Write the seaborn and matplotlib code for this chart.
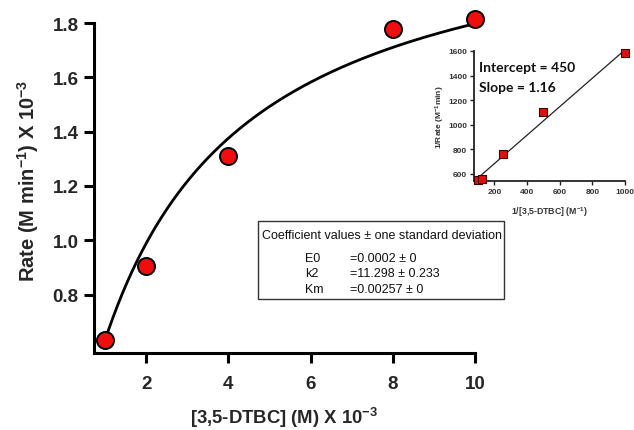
import numpy as np
import pandas as pd
import matplotlib
matplotlib.use("Agg")
import matplotlib.pyplot as plt
from matplotlib.patches import Rectangle
import seaborn as sns

# Substrate concentration (mM, i.e. M x 10^-3) and initial rate (M min^-1 x 10^-3)
conc = [1, 2, 4, 8, 10]
rate = [0.632, 0.907, 1.311, 1.779, 1.815]

# Michaelis-Menten fit coefficients
E0 = 0.0002
k2 = 11.298
Km = 0.00257

coef_names = ["E0", "k2", "Km"]
coef_texts = ["=0.0002 \u00b1 0", "=11.298 \u00b1 0.233", "=0.00257 \u00b1 0"]

# Lineweaver-Burk data
inv_conc = [100, 125, 250, 500, 1000]
inv_rate = [548, 560, 760, 1100, 1585]
lb_intercept = 450
lb_slope = 1.16

main_xticks = [2, 4, 6, 8, 10]
main_yticks = [0.8, 1.0, 1.2, 1.4, 1.6, 1.8]
inset_xticks = [200, 400, 600, 800, 1000]
inset_yticks = [600, 800, 1000, 1200, 1400, 1600]

sns.set_theme(style="ticks")
plt.rcParams["font.family"] = ["Liberation Sans", "DejaVu Sans"]
plt.rcParams["mathtext.fontset"] = "custom"
plt.rcParams["mathtext.rm"] = "Liberation Sans:bold"
plt.rcParams["mathtext.it"] = "Liberation Sans:bold"
plt.rcParams["mathtext.bf"] = "Liberation Sans:bold"

W, H = 634, 431
fig = plt.figure(figsize=(W / 100, H / 100), dpi=100)
fig.patch.set_facecolor("white")

# ---------------- main panel ----------------
ax = fig.add_axes([94 / W, (H - 354) / H, 381 / W, 330 / H])
ax.set_facecolor("none")

# fitted curve, in units of 10^-3
s_fit = np.linspace(conc[0], conc[-1], 300)
vmax = k2 * E0 * 1e3
km_m = Km * 1e3
fit = pd.DataFrame({"S": s_fit, "V": vmax * s_fit / (km_m + s_fit)})
sns.lineplot(data=fit, x="S", y="V", ax=ax, color="black", lw=2.0,
             clip_on=False, zorder=2)

pts = pd.DataFrame({"S": conc, "V": rate})
sns.scatterplot(data=pts, x="S", y="V", ax=ax, s=150, color="#f00d0d",
                edgecolor="black", linewidth=1.4, clip_on=False, zorder=3)

ax.set_xlim(0.73, 10)
ax.set_ylim(0.585, 1.8)
ax.set_xticks(main_xticks)
ax.set_yticks(main_yticks)
ax.set_xticklabels([str(v) for v in main_xticks])
ax.set_yticklabels([f"{v:.1f}" for v in main_yticks])
for sp in ["top", "right"]:
    ax.spines[sp].set_visible(False)
for sp in ["left", "bottom"]:
    ax.spines[sp].set_linewidth(2.2)
    ax.spines[sp].set_color("black")
ax.tick_params(axis="both", direction="out", length=7, width=2.2,
               color="black", labelsize=13.5, pad=4)
for lab in ax.get_xticklabels() + ax.get_yticklabels():
    lab.set_fontweight("bold")
ax.tick_params(axis="x", pad=9)

ax.set_xlabel("[3,5-DTBC] (M) X 10$^{-3}$", fontsize=13.3, fontweight="bold",
              labelpad=9)
ax.set_ylabel("Rate (M min$^{-1}$) X 10$^{-3}$", fontsize=14.5,
              fontweight="bold")
ax.yaxis.set_label_coords(-0.139, 0.525)

# coefficient box
bx0, by0, bx1, by1 = 258, 222, 504, 300
fig.patches.append(Rectangle((bx0 / W, 1 - by1 / H), (bx1 - bx0) / W,
                             (by1 - by0) / H, transform=fig.transFigure,
                             facecolor="white", edgecolor="#333333", lw=1.0))
fig.text(261.5 / W, 1 - 236 / H,
         "Coefficient values \u00b1 one standard deviation",
         fontsize=9.0, va="center", ha="left", color="#111111")
for i, (n, t) in enumerate(zip(coef_names, coef_texts)):
    yy = 1 - (259 + 15.5 * i) / H
    fig.text(305 / W, yy, n, fontsize=9.0, va="center", ha="left",
             color="#111111")
    fig.text(350 / W, yy, t, fontsize=9.0, va="center", ha="left",
             color="#111111")

# ---------------- inset: double reciprocal ----------------
ins = fig.add_axes([474 / W, (H - 182) / H, 151 / W, 130 / H])
ins.set_facecolor("none")
lx = np.array([inv_conc[0], inv_conc[-1]])
line = pd.DataFrame({"x": lx, "y": lb_intercept + lb_slope * lx})
sns.lineplot(data=line, x="x", y="y", ax=ins, color="#222222", lw=0.9,
             zorder=2)
ipts = pd.DataFrame({"x": inv_conc, "y": inv_rate})
sns.scatterplot(data=ipts, x="x", y="y", ax=ins, marker="s", s=26,
                color="#e01010", edgecolor="#400000", linewidth=0.8,
                clip_on=False, zorder=3)
ins.set_xlim(75, 1000)
ins.set_ylim(540, 1600)
ins.set_xticks(inset_xticks)
ins.set_yticks(inset_yticks)
for sp in ["top", "right"]:
    ins.spines[sp].set_visible(False)
for sp in ["left", "bottom"]:
    ins.spines[sp].set_linewidth(1.3)
    ins.spines[sp].set_color("#222222")
ins.tick_params(axis="both", direction="out", length=3, width=1.0,
                color="#222222", labelsize=6, pad=2, labelcolor="#333333")
for lab in ins.get_xticklabels() + ins.get_yticklabels():
    lab.set_fontweight("bold")
ins.set_xlabel("1/[3,5-DTBC] (M$^{-1}$)", fontsize=6.3, fontweight="bold",
               color="#333333", labelpad=6.5)
ins.set_ylabel("1/Rate (M$^{-1}$min)", fontsize=6, fontweight="bold",
               color="#333333", labelpad=1)

fig.text(479 / W, 1 - 68 / H, f"Intercept = {lb_intercept}",
         family=["Lato", "DejaVu Sans"], fontweight="bold", fontsize=10,
         va="center", ha="left", color="#111111")
fig.text(479 / W, 1 - 88 / H, f"Slope = {lb_slope}",
         family=["Lato", "DejaVu Sans"], fontweight="bold", fontsize=10,
         va="center", ha="left", color="#111111")

fig.savefig("out.png", dpi=100)
